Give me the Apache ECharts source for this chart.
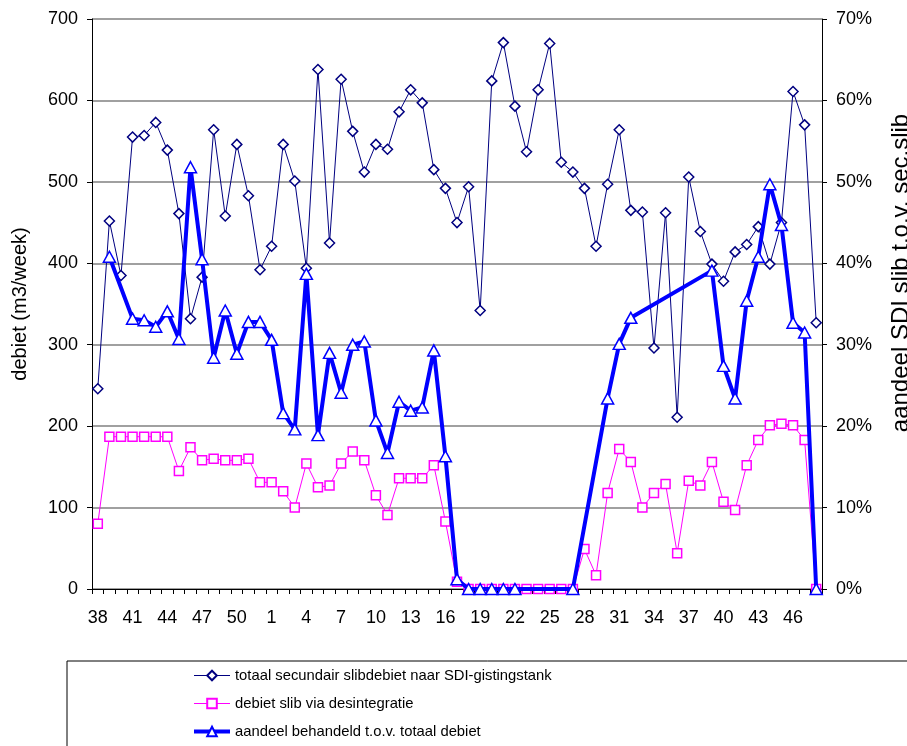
<!DOCTYPE html>
<html>
<head>
<meta charset="utf-8">
<script src="https://cdn.jsdelivr.net/npm/echarts@6/dist/echarts.min.js"></script>
<style>
  html, body { margin: 0; padding: 0; background: #fff; overflow: hidden; }
  #chart { width: 907px; height: 746px; }
</style>
</head>
<body>
<div id="chart"></div>
<script>
// Week numbers (week 38 of one year through week 48 of the next)
const weeks = [38,39,40,41,42,43,44,45,46,47,48,49,50,51,52,
  1,2,3,4,5,6,7,8,9,10,11,12,13,14,15,16,17,18,19,20,21,22,23,24,25,
  26,27,28,29,30,31,32,33,34,35,36,37,38,39,40,41,42,43,44,45,46,47,48];

// Total secondary sludge flow to the SDI digester (m3/week)
const totaalDebiet = [246,452,385,555,557,573,539,461,332,383,564,458,546,483,392,
  421,546,501,394,638,425,626,562,512,546,540,586,613,597,515,492,450,494,342,624,
  671,593,537,613,670,524,512,492,421,497,564,465,463,296,462,211,506,439,399,378,
  414,423,445,399,450,611,570,327];

// Sludge flow through disintegration (m3/week)
const desintegratieDebiet = [80,187,187,187,187,187,187,145,174,158,160,158,158,160,131,
  131,120,100,154,125,127,154,169,158,115,91,136,136,136,152,83,9,0,0,0,
  0,0,0,0,0,0,0,49,17,118,172,156,100,118,129,44,133,127,156,107,
  97,152,183,201,203,201,183,0];

// Treated share of total flow (%), gaps where no value was recorded
const aandeelBehandeld = [null,40.8,null,33.2,33.0,32.2,34.1,30.7,51.8,40.5,28.4,34.2,28.9,32.8,32.8,
  30.6,21.6,19.6,38.7,18.9,29.0,24.1,30.0,30.4,20.7,16.7,23.0,21.9,22.3,29.3,16.3,1.2,0,0,0,
  0,0,null,null,null,null,0,null,null,23.4,30.1,33.3,null,null,null,null,null,null,39.1,27.4,
  23.4,35.4,40.8,49.7,44.7,32.7,31.5,0];

const seriesNames = [
  'totaal secundair slibdebiet naar SDI-gistingstank',
  'debiet slib via desintegratie',
  'aandeel behandeld t.o.v. totaal debiet'
];

const rightAxisTitle = 'aandeel SDI slib t.o.v. sec.slib';

const font = 'Liberation Sans, Arial, sans-serif';
const colors = ['#000080', '#ff00ff', '#0000ff'];
const lineWidths = [1, 1, 4];

const chart = echarts.init(document.getElementById('chart'), null, { renderer: 'canvas', width: 907, height: 746 });

chart.setOption({
  backgroundColor: '#ffffff',
  animation: false,
  textStyle: { fontFamily: font, color: '#000' },
  grid: { left: 92, right: 85, top: 19, bottom: 157, containLabel: false, outerBoundsMode: 'none' },
  graphic: [{
    // legend frame
    type: 'rect',
    shape: { x: 67, y: 661, width: 860, height: 120 },
    style: { fill: 'none', stroke: '#000', lineWidth: 1 },
    z: 0
  }, {
    // right-hand axis title
    type: 'text',
    x: 901,
    y: 273,
    rotation: Math.PI / 2,
    style: {
      text: rightAxisTitle,
      font: '24px ' + font,
      fill: '#000',
      align: 'center',
      verticalAlign: 'middle'
    }
  }],
  legend: {
    orient: 'vertical',
    left: 192,
    top: 668,
    padding: 0,
    itemWidth: 36,
    itemHeight: 12,
    itemGap: 13,
    textStyle: { fontFamily: font, fontSize: 14.8, color: '#000' },
    data: seriesNames.map((name, i) => ({
      name: name,
      lineStyle: { color: colors[i], width: lineWidths[i] }
    }))
  },
  xAxis: {
    type: 'category',
    data: weeks,
    boundaryGap: true,
    axisLine: { lineStyle: { color: '#000', width: 1 } },
    axisTick: { show: true, interval: 0, length: 5, lineStyle: { color: '#000' } },
    axisLabel: { interval: 2, fontSize: 18, margin: 20, color: '#000', fontFamily: font },
    splitLine: { show: false }
  },
  yAxis: [{
    type: 'value',
    min: 0, max: 700, interval: 100,
    name: 'debiet (m3/week)',
    nameLocation: 'middle',
    nameGap: 62,
    nameRotate: 90,
    nameTextStyle: { fontSize: 20, color: '#000', fontFamily: font },
    axisLine: { show: true, lineStyle: { color: '#000', width: 1 } },
    axisTick: { show: true, length: 5, lineStyle: { color: '#000' } },
    axisLabel: { fontSize: 18, margin: 14, color: '#000', fontFamily: font },
    splitLine: { show: true, lineStyle: { color: '#808080', width: 1.5 } }
  }, {
    type: 'value',
    min: 0, max: 70, interval: 10,
    axisLine: { show: true, lineStyle: { color: '#000', width: 1 } },
    axisTick: { show: true, length: 5, lineStyle: { color: '#000' } },
    axisLabel: { fontSize: 18, margin: 14, color: '#000', fontFamily: font, formatter: '{value}%' },
    splitLine: { show: false }
  }],
  series: [{
    name: seriesNames[0],
    type: 'line',
    yAxisIndex: 0,
    data: totaalDebiet,
    symbol: 'diamond',
    symbolSize: 10,
    showAllSymbol: true,
    lineStyle: { color: colors[0], width: lineWidths[0] },
    itemStyle: { color: '#ffffff', borderColor: colors[0], borderWidth: 1.5 },
    z: 2
  }, {
    name: seriesNames[1],
    type: 'line',
    yAxisIndex: 0,
    data: desintegratieDebiet,
    symbol: 'rect',
    symbolSize: 9,
    showAllSymbol: true,
    lineStyle: { color: colors[1], width: lineWidths[1] },
    itemStyle: { color: '#ffffff', borderColor: colors[1], borderWidth: 1.5 },
    z: 3
  }, {
    name: seriesNames[2],
    type: 'line',
    yAxisIndex: 1,
    data: aandeelBehandeld,
    connectNulls: true,
    symbol: 'triangle',
    symbolSize: [12, 11],
    showAllSymbol: true,
    lineStyle: { color: colors[2], width: lineWidths[2] },
    itemStyle: { color: '#ffffff', borderColor: colors[2], borderWidth: 1.5 },
    z: 4
  }]
});
</script>
</body>
</html>
